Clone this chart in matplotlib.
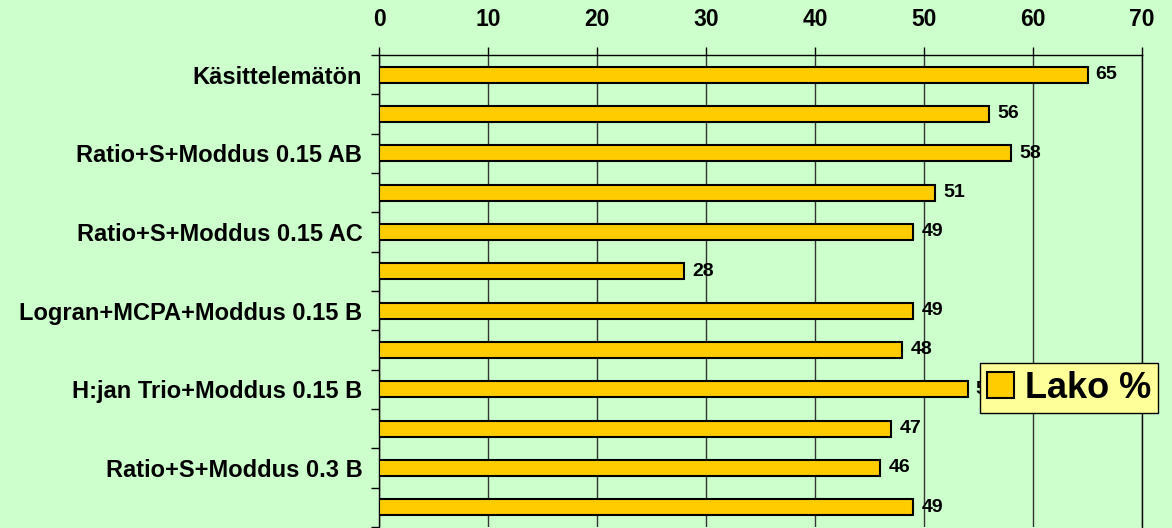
import numpy as np
import matplotlib.pyplot as plt
from matplotlib.patches import Patch

plt.rcParams['font.family'] = ['Liberation Sans', 'DejaVu Sans']
plt.rcParams['font.weight'] = 'bold'

# tiedot (joka toinen nimi ei näy alkuperäisessä kuvassa)
kasittelyt = ["Käsittelemätön", "", "Ratio+S+Moddus 0.15 AB", "",
              "Ratio+S+Moddus 0.15 AC", "", "Logran+MCPA+Moddus 0.15 B", "",
              "H:jan Trio+Moddus 0.15 B", "", "Ratio+S+Moddus 0.3 B", ""]
lako = [65, 56, 58, 51, 49, 28, 49, 48, 54, 47, 46, 49]

bg = '#CCFFCC'
fig = plt.figure(figsize=(11.72, 5.28), dpi=100, facecolor=bg)
ax = fig.add_axes([379/1172, 1 - 527/528, (1142-379)/1172, (527-55)/528])
ax.set_facecolor(bg)

y = np.arange(len(lako))
bars = ax.barh(y, lako, height=0.4, color='#FFCC00', edgecolor='black',
               linewidth=1.5, zorder=3)
for yi, v in zip(y, lako):
    ax.text(v + 0.75, yi, str(v), va='center', ha='left', fontsize=14,
            fontweight='bold', zorder=4)

ax.set_xlim(0, 70)
ax.set_ylim(len(lako) - 0.5, -0.5)
ax.set_xticks(range(0, 71, 10))
ax.xaxis.tick_top()
ax.tick_params(axis='x', labelsize=16.5, length=6, width=1, pad=11)
ax.set_yticks(y)
ax.set_yticklabels(kasittelyt, fontsize=17, fontweight='bold')
ax.set_yticks(np.arange(len(lako) + 1) - 0.5, minor=True)
ax.tick_params(axis='y', which='major', length=0, pad=12)
ax.tick_params(axis='y', which='minor', length=6, width=1)
for lbl in ax.get_xticklabels():
    lbl.set_fontweight('bold')
ax.grid(axis='x', color='#333333', linewidth=1, zorder=1)
for s in ['top', 'left', 'right']:
    ax.spines[s].set_linewidth(1)
ax.spines['bottom'].set_visible(False)

leg = fig.legend(handles=[Patch(facecolor='#FFCC00', edgecolor='black', linewidth=1.5,
                                label='Lako %')],
                 loc='center', bbox_to_anchor=(1069/1172, 1 - 388/528),
                 frameon=True, fancybox=False, handlelength=0.75,
                 handleheight=0.75, handletextpad=0.3, borderpad=0.2,
                 borderaxespad=0, prop={'weight': 'bold', 'size': 26})
leg.get_frame().set_facecolor('#FFFF99')
leg.get_frame().set_edgecolor('black')
leg.get_frame().set_alpha(1)
leg.set_zorder(10)

fig.savefig('out.png', dpi=100, facecolor=bg)
